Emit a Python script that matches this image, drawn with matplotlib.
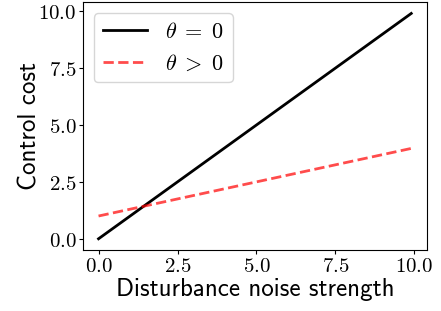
import numpy as np
import matplotlib
matplotlib.use("Agg")
import matplotlib.pyplot as plt
from matplotlib.ticker import FuncFormatter

plt.rcParams['mathtext.fontset'] = 'cm'

x = np.arange(0, 10, 0.1)
slope_zero = 1.0
intercept_pos = 1.0
slope_pos = 0.3
y_theta0 = slope_zero * x
y_thetapos = intercept_pos + slope_pos * x
labels = [r'$\theta\;=\;0$', r'$\theta\;>\;0$']
xlabel = 'Disturbance noise strength'
ylabel = 'Control cost'

fig = plt.figure(figsize=(4.41, 3.11), dpi=100)
ax = fig.add_axes([0.188, 0.196, 0.78, 0.797])
ax.plot(x, y_theta0, color='black', lw=2, label=labels[0])
ax.plot(x, y_thetapos, color='red', alpha=0.7, lw=2, ls='--', label=labels[1])

fmt = FuncFormatter(lambda v, p: r'$%.1f$' % v)
ax.xaxis.set_major_formatter(fmt)
ax.yaxis.set_major_formatter(fmt)
ax.set_xticks([0, 2.5, 5, 7.5, 10])
ax.set_yticks([0, 2.5, 5, 7.5, 10])
ax.tick_params(labelsize=15, pad=1.5, length=3)
ax.set_xlabel(xlabel, family='cmss10', fontsize=18, labelpad=1)
ax.set_ylabel(ylabel, family='cmss10', fontsize=18, labelpad=-2)
ax.legend(loc='upper left', fontsize=16, handlelength=2.0)
fig.savefig('out.png', dpi=100)
